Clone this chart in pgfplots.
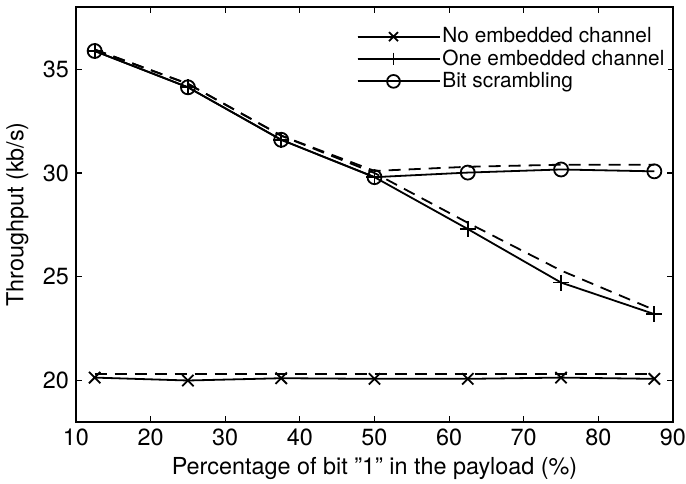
\documentclass[border=0pt]{standalone}
\usepackage{pgfplots}
\pgfplotsset{compat=1.18}
\usepackage{fontspec}
\setmainfont{TeX Gyre Heros}

\begin{document}
\begin{tikzpicture}
\begin{axis}[
  scale only axis, width=298.5pt, height=207.5pt,
  xmin=10, xmax=90, ymin=18, ymax=38,
  xtick={10,20,...,90}, ytick={20,25,30,35},
  tick align=inside, major tick length=3pt,
  axis line style={line width=0.8pt}, every tick/.style={black,line width=0.6pt},
  font=\fontsize{11.7}{14}\selectfont,
  /pgf/number format/assume math mode=true,
  xlabel={Percentage of bit \symbol{34}1\symbol{34} in the payload (\%)},
  ylabel={Throughput (kb/s)},
  every axis x label/.style={at={(axis description cs:0.5,-0.1253)}, anchor=base},
  every axis y label/.style={at={(axis description cs:-0.079,0.5)}, rotate=90, anchor=south, inner sep=0pt},
  legend style={at={(0.993,0.961)}, anchor=north east, draw=none, fill=white,
    font=\fontsize{10.4}{12}\selectfont, row sep=0pt, inner sep=1pt,
    nodes={inner sep=1pt}},
  legend cell align=left,
  legend image code/.code={%
    \path (0pt,0pt) -- (41pt,0pt);
    \draw[#1, line width=0.9pt, mark=none] (0pt,0pt) -- (36pt,0pt);
    \draw[#1, line width=0.9pt, only marks, mark size=3.2pt] plot coordinates {(18pt,0pt)};},
  mark size=3.5pt,
]
% dashed reference curves
\addplot[black, line width=0.9pt, dash pattern=on 6pt off 4pt, forget plot] coordinates {
(12.5,20.3) (25,20.3) (37.5,20.3) (50,20.3) (62.5,20.3) (75,20.3) (87.5,20.3)};
\addplot[black, line width=0.9pt, dash pattern=on 6pt off 4pt, forget plot] coordinates {
(12.5,35.95) (25,34.3) (37.5,31.8) (50,30.0) (62.5,27.6) (75,25.3) (87.5,23.4)};
\addplot[black, line width=0.9pt, dash pattern=on 6pt off 4pt, forget plot] coordinates {
(12.5,35.95) (25,34.3) (37.5,31.8) (50,30.1) (62.5,30.3) (75,30.4) (87.5,30.4)};
% measured
\addplot[black, line width=0.9pt, mark=x, mark size=4pt] coordinates {
(12.5,20.14) (25,20.0) (37.5,20.11) (50,20.08) (62.5,20.08) (75,20.14) (87.5,20.08)};
\addlegendentry{No embedded channel}
\addplot[black, line width=0.9pt, mark=+, mark size=4pt] coordinates {
(12.5,35.88) (25,34.13) (37.5,31.6) (50,29.8) (62.5,27.3) (75,24.72) (87.5,23.2)};
\addlegendentry{One embedded channel}
\addplot[black, line width=0.9pt, mark=o] coordinates {
(12.5,35.88) (25,34.13) (37.5,31.6) (50,29.8) (62.5,30.02) (75,30.17) (87.5,30.08)};
\addlegendentry{Bit scrambling}
\end{axis}
\pgfresetboundingbox
\path ([shift={(-38pt,-30.5pt)}]current axis.south west) rectangle ([shift={(6.5pt,3.5pt)}]current axis.north east);
\end{tikzpicture}
\end{document}
